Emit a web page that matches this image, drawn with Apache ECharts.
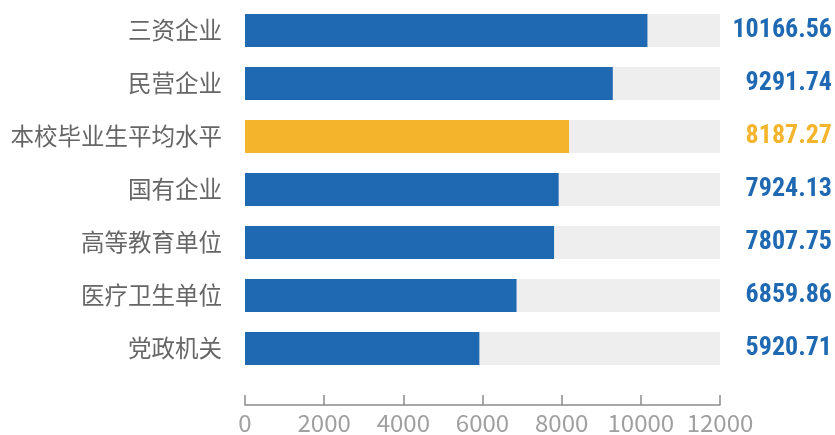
<!DOCTYPE html>
<html>
<head>
<meta charset="utf-8">
<script src="https://cdn.jsdelivr.net/npm/echarts@6/dist/echarts.min.js"></script>
<style>
  html, body { margin: 0; padding: 0; background: #fff; }
  #chart { width: 835px; height: 435px; }
</style>
</head>
<body>
<div id="chart"></div>
<script>
// categories top to bottom
const categories = ['三资企业', '民营企业', '本校毕业生平均水平', '国有企业', '高等教育单位', '医疗卫生单位', '党政机关']
const salaries = [10166.56, 9291.74, 8187.27, 7924.13, 7807.75, 6859.86, 5920.71]
const highlightIndex = 2

const BLUE = '#1f69b3'
const ORANGE = '#f4b42c'

const chart = echarts.init(document.getElementById('chart'))
chart.setOption({
  animation: false,
  grid: { left: 245, right: 115, top: 4, bottom: 60 },
  xAxis: {
    type: 'value',
    min: 0,
    max: 12000,
    interval: 2000,
    offset: 30,
    splitLine: { show: false },
    axisLine: { show: true, lineStyle: { color: '#8c8c8c', width: 1.5 } },
    axisTick: { show: true, inside: true, length: 10, lineStyle: { color: '#8c8c8c', width: 1.5 } },
    axisLabel: {
      color: '#a0a0a0', fontSize: 24, fontFamily: 'Noto Sans CJK SC', margin: 6,
      formatter: v => String(v),
    },
  },
  yAxis: [
    {
      type: 'category',
      data: categories,
      inverse: true,
      axisLine: { show: false },
      axisTick: { show: false },
      axisLabel: { color: '#666666', fontSize: 23.5, fontFamily: 'Noto Sans CJK SC', margin: 23 },
    },
    {
      type: 'category',
      data: salaries.map(v => v.toFixed(2)),
      inverse: true,
      position: 'right',
      axisLine: { show: false },
      axisTick: { show: false },
      axisLabel: {
        align: 'right',
        margin: 112,
        fontSize: 26,
        fontWeight: 'bold condensed',
        fontFamily: 'Roboto',
        color: (v, i) => (i === highlightIndex ? ORANGE : BLUE),
      },
    },
  ],
  series: [
    {
      type: 'bar',
      barWidth: 33,
      data: salaries.map((v, i) => ({
        value: v,
        itemStyle: { color: i === highlightIndex ? ORANGE : BLUE },
      })),
      showBackground: true,
      backgroundStyle: { color: '#eeeeee' },
    },
  ],
})
</script>
</body>
</html>
